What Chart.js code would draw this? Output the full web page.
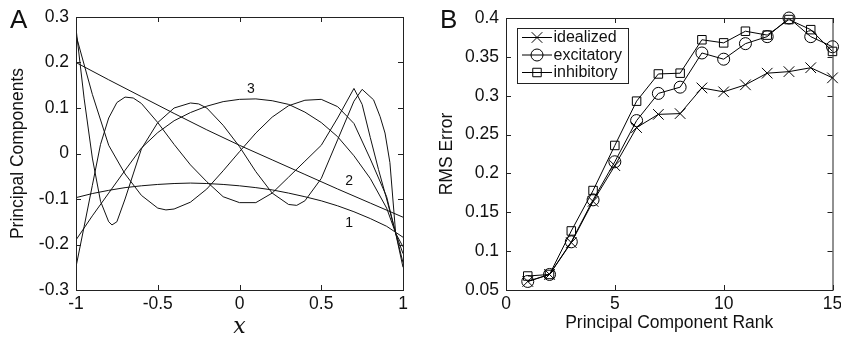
<!DOCTYPE html>
<html>
<head>
<meta charset="utf-8">
<script src="https://cdn.jsdelivr.net/npm/chart.js@4.4.0/dist/chart.umd.min.js"></script>
<style>
html, body { margin: 0; padding: 0; background: #fff; }
#wrap { position: relative; width: 841px; height: 337px; overflow: hidden; }
canvas { position: absolute; top: 0; }
#chartA { left: 0; }
#chartB { left: 420px; }
</style>
</head>
<body>
<div id="wrap">
  <canvas id="chartA" width="420" height="337"></canvas>
  <canvas id="chartB" width="421" height="337"></canvas>
</div>
<script>
// ---- Panel A: principal components ----
const pc1X = [-1, -0.9, -0.8, -0.7, -0.6, -0.5, -0.4, -0.3, -0.2, -0.1, 0, 0.1, 0.2, 0.3, 0.4, 0.5, 0.6, 0.7, 0.8, 0.9, 0.95, 1];
const pc1Y = [-0.097, -0.088, -0.081, -0.075, -0.071, -0.068, -0.066, -0.065, -0.066, -0.068, -0.071, -0.075, -0.080, -0.087, -0.095, -0.104, -0.115, -0.128, -0.143, -0.160, -0.172, -0.184];

const pc2X = [-1, -0.8, -0.6, -0.4, -0.2, 0, 0.2, 0.4, 0.6, 0.8, 1];
const pc2Y = [0.200, 0.162, 0.125, 0.088, 0.052, 0.018, -0.014, -0.046, -0.078, -0.109, -0.140];

const pc3X = [-1, -0.9, -0.8, -0.7, -0.6, -0.5, -0.4, -0.3, -0.2, -0.1, 0, 0.1, 0.2, 0.3, 0.4, 0.5, 0.6, 0.7, 0.8, 0.9, 0.955, 1];
const pc3Y = [-0.190, -0.137, -0.087, -0.037, 0.012, 0.046, 0.072, 0.090, 0.104, 0.114, 0.119, 0.120, 0.116, 0.108, 0.091, 0.068, 0.037, -0.005, -0.055, -0.120, -0.175, -0.205];

const pc4X = [-1, -0.9, -0.8, -0.7, -0.6, -0.5, -0.45, -0.4, -0.3, -0.2, -0.1, 0, 0.1, 0.2, 0.3, 0.4, 0.5, 0.6, 0.7, 0.8, 0.9, 0.955, 1];
const pc4Y = [0.260, 0.130, 0.018, -0.045, -0.092, -0.120, -0.124, -0.122, -0.107, -0.078, -0.038, 0.004, 0.045, 0.080, 0.105, 0.117, 0.119, 0.103, 0.066, -0.012, -0.095, -0.175, -0.220];

const pc5X = [-1, -0.95, -0.9, -0.85, -0.8, -0.75, -0.7, -0.65, -0.6, -0.5, -0.4, -0.3, -0.2, -0.1, 0, 0.1, 0.2, 0.3, 0.4, 0.5, 0.6, 0.7, 0.75, 0.8, 0.85, 0.9, 0.955, 1];
const pc5Y = [-0.249, -0.160, -0.070, 0.020, 0.078, 0.112, 0.124, 0.122, 0.110, 0.068, 0.020, -0.025, -0.062, -0.095, -0.108, -0.108, -0.087, -0.052, -0.017, 0.018, 0.078, 0.143, 0.108, 0.035, -0.035, -0.100, -0.175, -0.240];

const pc6X = [-1, -0.95, -0.9, -0.85, -0.8, -0.78, -0.75, -0.7, -0.65, -0.6, -0.5, -0.4, -0.3, -0.25, -0.2, -0.1, 0, 0.1, 0.2, 0.3, 0.35, 0.4, 0.5, 0.6, 0.7, 0.75, 0.82, 0.86, 0.89, 0.92, 0.955, 1];
const pc6Y = [0.275, 0.120, -0.010, -0.105, -0.150, -0.157, -0.150, -0.100, -0.045, 0.010, 0.068, 0.100, 0.111, 0.109, 0.100, 0.062, 0.015, -0.040, -0.087, -0.112, -0.114, -0.104, -0.055, 0.030, 0.115, 0.141, 0.118, 0.081, 0.045, -0.020, -0.175, -0.250];

const aXTicks = [-1, -0.5, 0, 0.5, 1];
const aXTickLabels = ['-1', '-0.5', '0', '0.5', '1'];
const aYTicks = [-0.3, -0.2, -0.1, 0, 0.1, 0.2, 0.3];
const aYTickLabels = ['-0.3', '-0.2', '-0.1', '0', '0.1', '0.2', '0.3'];

// curve labels (text, x, y in data units)
const aCurveLabels = ['1', '2', '3'];
const aCurveLabelX = [0.67, 0.67, 0.07];
const aCurveLabelY = [-0.153, -0.06, 0.141];

// ---- Panel B: RMS error ----
const rank = [1, 2, 3, 4, 5, 6, 7, 8, 9, 10, 11, 12, 13, 14, 15];
const idealized = [0.061, 0.070, 0.111, 0.164, 0.210, 0.259, 0.276, 0.277, 0.310, 0.305, 0.314, 0.329, 0.331, 0.336, 0.323];
const excitatory = [0.061, 0.070, 0.112, 0.166, 0.215, 0.268, 0.303, 0.311, 0.355, 0.347, 0.367, 0.376, 0.400, 0.376, 0.363];
const inhibitory = [0.068, 0.070, 0.126, 0.178, 0.236, 0.293, 0.328, 0.329, 0.372, 0.368, 0.383, 0.378, 0.398, 0.385, 0.357];

const bXTicks = [0, 5, 10, 15];
const bXTickLabels = ['0', '5', '10', '15'];
const bYTicks = [0.05, 0.1, 0.15, 0.2, 0.25, 0.3, 0.35, 0.4];
const bYTickLabels = ['0.05', '0.1', '0.15', '0.2', '0.25', '0.3', '0.35', '0.4'];

const FONT = "'Liberation Sans', Helvetica, Arial, sans-serif";
Chart.defaults.font.family = FONT;
Chart.defaults.font.size = 17.5;
Chart.defaults.color = '#111';

const zip = (xs, ys) => xs.map((x, i) => ({ x, y: ys[i] }));

// box around the plot area with inward tick marks on all four sides
const framePlugin = {
    id: 'frame',
    afterDatasetsDraw(chart, args, opts) {
        const { ctx, chartArea: a, scales } = chart;
        ctx.save();
        ctx.strokeStyle = '#222';
        ctx.lineWidth = 1;
        ctx.strokeRect(a.left + 0.5, a.top + 0.5, a.right - a.left, a.bottom - a.top);
        const len = 5;
        ctx.beginPath();
        (opts.xTicks || []).forEach(v => {
            const px = Math.round(scales.x.getPixelForValue(v)) + 0.5;
            ctx.moveTo(px, a.bottom); ctx.lineTo(px, a.bottom - len);
            ctx.moveTo(px, a.top); ctx.lineTo(px, a.top + len);
        });
        (opts.yTicks || []).forEach(v => {
            const py = Math.round(scales.y.getPixelForValue(v)) + 0.5;
            ctx.moveTo(a.left, py); ctx.lineTo(a.left + len, py);
            ctx.moveTo(a.right, py); ctx.lineTo(a.right - len, py);
        });
        ctx.stroke();

        if (opts.letter) {
            ctx.fillStyle = '#111';
            ctx.font = '26px ' + FONT;
            ctx.textBaseline = 'alphabetic';
            ctx.textAlign = 'left';
            ctx.fillText(opts.letter, opts.letterX, 28);
        }
        ctx.restore();
    }
};

const curveLabelPlugin = {
    id: 'curveLabels',
    afterDatasetsDraw(chart) {
        const { ctx, scales } = chart;
        ctx.save();
        ctx.fillStyle = '#111';
        ctx.font = '14px ' + FONT;
        ctx.textAlign = 'center';
        ctx.textBaseline = 'middle';
        aCurveLabels.forEach((t, i) => {
            ctx.fillText(t, scales.x.getPixelForValue(aCurveLabelX[i]), scales.y.getPixelForValue(aCurveLabelY[i]));
        });
        ctx.restore();
    }
};

// boxed legend in the upper left of panel B
const boxLegendPlugin = {
    id: 'boxLegend',
    afterDatasetsDraw(chart) {
        const { ctx } = chart;
        const bx = 97, by = 28, bw = 111, bh = 55;
        ctx.save();
        ctx.fillStyle = '#fff';
        ctx.fillRect(bx, by, bw, bh);
        ctx.strokeStyle = '#222';
        ctx.lineWidth = 1;
        ctx.strokeRect(bx + 0.5, by + 0.5, bw, bh);
        chart.data.datasets.forEach((ds, i) => {
            const y = 37.5 + i * 17.5;
            ctx.strokeStyle = '#000';
            ctx.lineWidth = 1;
            ctx.beginPath();
            ctx.moveTo(102, y); ctx.lineTo(132, y);
            ctx.stroke();
            ctx.fillStyle = 'rgba(0,0,0,0)';
            Chart.helpers.drawPoint(ctx, { pointStyle: ds.pointStyle, radius: ds.pointRadius, borderWidth: 1, rotation: 0 }, 117, y);
            ctx.fillStyle = '#111';
            ctx.font = '16px ' + FONT;
            ctx.textAlign = 'left';
            ctx.textBaseline = 'middle';
            ctx.fillText(ds.label, 133.5, y + 0.5);
        });
        ctx.restore();
    }
};

function fixY(width) {
    return (s) => { s.width = width; s.paddingTop = 0; s.paddingBottom = 0; };
}
function fixX(height) {
    return (s) => { s.height = height; s.paddingLeft = 0; s.paddingRight = 0; };
}

const lineStyle = { borderColor: '#111', borderWidth: 1, pointRadius: 0, showLine: true, fill: false, tension: 0 };

new Chart(document.getElementById('chartA'), {
    type: 'scatter',
    data: {
        datasets: [
            { label: 'PC1', data: zip(pc1X, pc1Y), ...lineStyle },
            { label: 'PC2', data: zip(pc2X, pc2Y), ...lineStyle },
            { label: 'PC3', data: zip(pc3X, pc3Y), ...lineStyle },
            { label: 'PC4', data: zip(pc4X, pc4Y), ...lineStyle },
            { label: 'PC5', data: zip(pc5X, pc5Y), ...lineStyle },
            { label: 'PC6', data: zip(pc6X, pc6Y), ...lineStyle }
        ]
    },
    options: {
        responsive: false,
        animation: false,
        devicePixelRatio: 1,
        layout: { padding: { left: 0, top: 17, right: 17, bottom: 0 } },
        plugins: {
            legend: { display: false },
            tooltip: { enabled: false },
            frame: { xTicks: aXTicks, yTicks: aYTicks, letter: 'A', letterX: 10 }
        },
        scales: {
            x: {
                type: 'linear', min: -1, max: 1,
                afterBuildTicks: (s) => { s.ticks = aXTicks.map(v => ({ value: v })); },
                afterFit: fixX(47),
                grid: { display: false, drawTicks: false },
                border: { display: false },
                ticks: { padding: 4, maxRotation: 0, callback: (v) => aXTickLabels[aXTicks.indexOf(v)] },
                title: {
                    display: true, text: 'x',
                    font: { family: "'DejaVu Serif', 'Liberation Serif', serif", style: 'italic', size: 22, lineHeight: 1 },
                    padding: { top: 0, bottom: -1.5 }
                }
            },
            y: {
                min: -0.3, max: 0.3,
                afterBuildTicks: (s) => { s.ticks = aYTicks.map(v => ({ value: v })); },
                afterFit: fixY(76),
                grid: { display: false, drawTicks: false },
                border: { display: false },
                ticks: { padding: 7, callback: (v) => aYTickLabels[aYTicks.indexOf(v)] },
                title: { display: true, text: 'Principal Components', padding: { top: 7.5, bottom: 0 } }
            }
        }
    },
    plugins: [curveLabelPlugin, framePlugin]
});

const markerStyle = { borderColor: '#000', borderWidth: 1, pointBorderWidth: 1, pointBackgroundColor: 'rgba(0,0,0,0)', pointBorderColor: '#000', showLine: true, fill: false, tension: 0, clip: false };

new Chart(document.getElementById('chartB'), {
    type: 'scatter',
    data: {
        datasets: [
            { label: 'idealized', data: zip(rank, idealized), pointStyle: 'crossRot', pointRadius: 7.5, ...markerStyle },
            { label: 'excitatory', data: zip(rank, excitatory), pointStyle: 'circle', pointRadius: 6, ...markerStyle },
            { label: 'inhibitory', data: zip(rank, inhibitory), pointStyle: 'rect', pointRadius: 6, ...markerStyle }
        ]
    },
    options: {
        responsive: false,
        animation: false,
        devicePixelRatio: 1,
        layout: { padding: { left: 0, top: 18, right: 8, bottom: 0 } },
        plugins: {
            legend: { display: false },
            tooltip: { enabled: false },
            frame: { xTicks: bXTicks, yTicks: bYTicks, letter: 'B', letterX: 20 }
        },
        scales: {
            x: {
                type: 'linear', min: 0, max: 15,
                afterBuildTicks: (s) => { s.ticks = bXTicks.map(v => ({ value: v })); },
                afterFit: fixX(47),
                grid: { display: false, drawTicks: false },
                border: { display: false },
                ticks: { padding: 4, maxRotation: 0, callback: (v) => bXTickLabels[bXTicks.indexOf(v)] },
                title: { display: true, text: 'Principal Component Rank', padding: { top: 0, bottom: 3.5 } }
            },
            y: {
                min: 0.05, max: 0.4,
                afterBuildTicks: (s) => { s.ticks = bYTicks.map(v => ({ value: v })); },
                afterFit: fixY(86),
                grid: { display: false, drawTicks: false },
                border: { display: false },
                ticks: { padding: 7, callback: (v) => bYTickLabels[bYTicks.indexOf(v)] },
                title: { display: true, text: 'RMS Error', padding: { top: 16.5, bottom: 0 } }
            }
        }
    },
    plugins: [framePlugin, boxLegendPlugin]
});
</script>
</body>
</html>
